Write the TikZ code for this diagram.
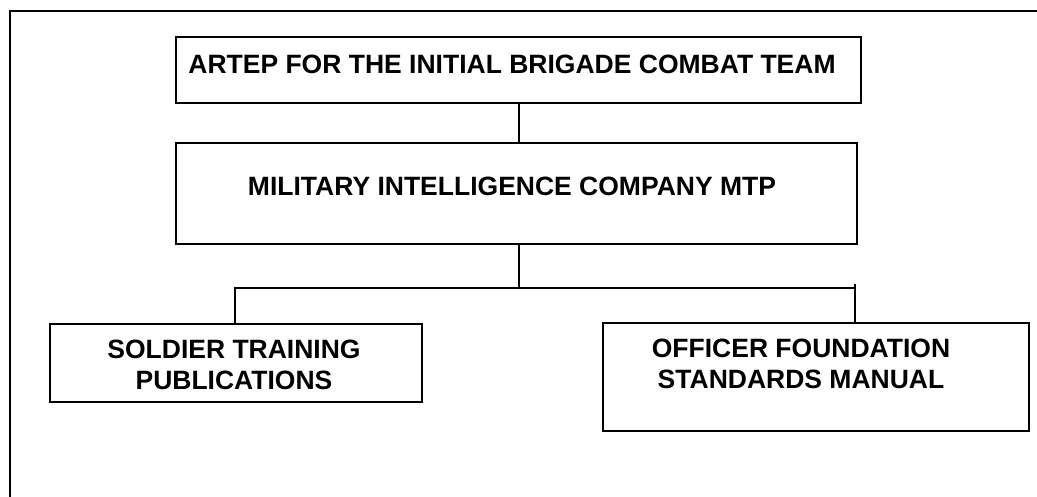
\documentclass[tikz,border=0pt]{standalone}
\usepackage{fontspec}
\setmainfont{Liberation Sans}
\begin{document}
\begin{tikzpicture}[x=1pt,y=-1pt,
  box/.style={draw=black, line width=1.8pt, rectangle, inner sep=0pt},
  txt/.style={font=\bfseries\fontsize{26.5}{30.5}\selectfont, align=center, inner sep=0pt},
  conn/.style={draw=black, line width=1.4pt},
  frame/.style={draw=black, line width=1.8pt}]
\useasboundingbox (0,0) rectangle (1037,496);
\fill[white] (0,0) rectangle (1037,496);
% outer frame (partly cut off)
\coordinate (fbl) at (10,498);
\coordinate (ftl) at (10,11);
\coordinate (ftr) at (1040,11);
\draw[frame] (fbl) -- (ftl) -- (ftr);
% boxes
\node[box, minimum width=685pt, minimum height=66pt] (artep) at (518.5,70) {};
\node[box, minimum width=681pt, minimum height=101pt] (mi) at (516.5,193.5) {};
\node[box, minimum width=372pt, minimum height=78pt] (sol) at (236,363) {};
\node[box, minimum width=426pt, minimum height=108pt] (off) at (816,377) {};
% texts
\node[txt] (artepT) at (512,64.5) {ARTEP FOR THE INITIAL BRIGADE COMBAT TEAM};
\node[txt] (miT) at (512,186) {MILITARY INTELLIGENCE COMPANY MTP};
\node[txt] (solT) at (234,365) {SOLDIER TRAINING\\PUBLICATIONS};
\node[txt] (offT) at (801,364) {OFFICER FOUNDATION\\STANDARDS MANUAL};
% connectors
\coordinate (trunk) at (519,0);
\coordinate (busL) at (235,288);
\coordinate (busR) at (855,288);
\coordinate (busRt) at (855,284);
\draw[conn] (artep.south -| trunk) -- (mi.north -| trunk);
\draw[conn] (mi.south -| trunk) -- (busL -| trunk);
\draw[conn] (sol.north -| busL) -- (busL) -- (busR);
\draw[conn] (busRt) -- (off.north -| busR);
\end{tikzpicture}
\end{document}
